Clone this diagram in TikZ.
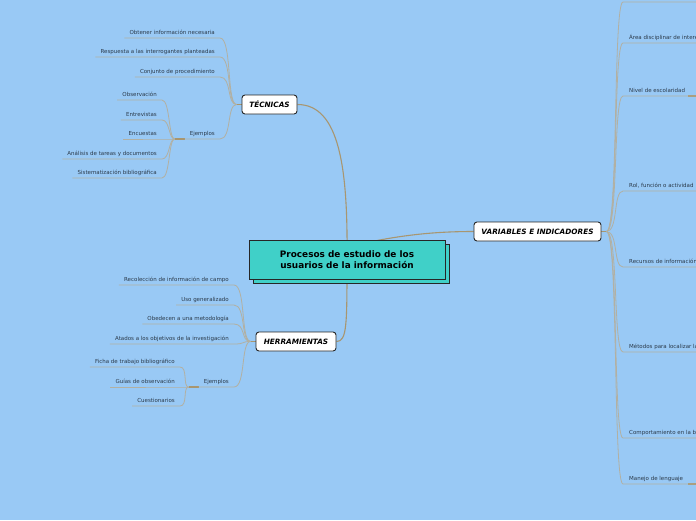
\documentclass[tikz,border=0pt]{standalone}
\usepackage{fontspec}
\setmainfont{DejaVu Sans}
\usetikzlibrary{shadows,backgrounds}

\definecolor{mapbg}{HTML}{99C9F5}
\definecolor{rootteal}{HTML}{40D0C8}
\definecolor{branchbrown}{HTML}{A89670}
\definecolor{twiggrey}{HTML}{B2B0A2}
\definecolor{leaftext}{HTML}{2B3A4A}

\begin{document}
\begin{tikzpicture}[x=1pt, y=-1pt,
    root/.style={rectangle, draw=black!85, line width=1pt, fill=rootteal,
                 minimum width=196pt, minimum height=39pt, align=center,
                 font=\fontsize{8.9}{11.5}\selectfont\bfseries, text=black,
                 copy shadow={shadow xshift=4pt, shadow yshift=-4pt}},
    topic/.style={rectangle, rounded corners=3pt, draw=black!85, line width=0.9pt,
                  fill=white, minimum height=19pt, inner sep=0pt,
                  font=\fontsize{7.3}{8}\selectfont\bfseries\itshape},
    leafl/.style={anchor=south east, font=\fontsize{5.5}{6}\selectfont, text=leaftext,
                  inner xsep=5pt, inner ysep=2.2pt, text height=4pt, text depth=1.2pt},
    leafr/.style={leafl, anchor=south west, inner xsep=6pt},
    branch/.style={draw=branchbrown, line width=1.1pt},
    twig/.style={draw=twiggrey, line width=0.8pt},
    stub/.style={draw=branchbrown, line width=1.2pt},
]
\useasboundingbox (0,0) rectangle (696,520);
\clip (0,0) rectangle (696,520);

% --- Central topic ---
\node[root] (root) at (347,259.5) {Procesos de estudio de los\\ usuarios de la información};

% --- Main topics ---
\node[topic, minimum width=55pt]  (tec) at (269.5,104.5) {TÉCNICAS};
\node[topic, minimum width=80pt]  (her) at (296,341.5)   {HERRAMIENTAS};
\node[topic, minimum width=127pt] (var) at (537.5,231.5) {VARIABLES E INDICADORES};

% --- TÉCNICAS leaves ---
\node[leafl] (t1) at (220,38)  {Obtener información necesaria};
\node[leafl] (t2) at (220,57)  {Respuesta a las interrogantes planteadas};
\node[leafl] (t3) at (220,77)  {Conjunto de procedimiento};
\node[leafl] (te) at (220,139) {Ejemplos};
\node[leafl] (te1) at (162,100) {Observación};
\node[leafl] (te2) at (162,120) {Entrevistas};
\node[leafl] (te3) at (162,139) {Encuestas};
\node[leafl] (te4) at (162,159) {Análisis de tareas y documentos};
\node[leafl] (te5) at (162,178) {Sistematización bibliográfica};

% --- HERRAMIENTAS leaves ---
\node[leafl] (h1) at (234,285) {Recolección de información de campo};
\node[leafl] (h2) at (234,305) {Uso generalizado};
\node[leafl] (h3) at (234,324) {Obedecen a una metodología};
\node[leafl] (h4) at (234,344) {Atados a los objetivos de la investigación};
\node[leafl] (he) at (234,387) {Ejemplos};
\node[leafl] (he1) at (180,367) {Ficha de trabajo bibliográfico};
\node[leafl] (he2) at (180,387) {Guías de observación};
\node[leafl] (he3) at (180,406) {Cuestionarios};

% --- VARIABLES E INDICADORES leaves ---
\node[leafr] (v0) at (623,2)   {};
\node[leafr] (v1) at (623,43)  {Área disciplinar de interés};
\node[leafr] (v2) at (623,96)  {Nivel de escolaridad};
\node[leafr] (v3) at (623,191) {Rol, función o actividad};
\node[leafr] (v4) at (623,267) {Recursos de información};
\node[leafr] (v5) at (623,352) {Métodos para localizar la información};
\node[leafr] (v6) at (623,438) {Comportamiento en la búsqueda};
\node[leafr] (v7) at (623,484) {Manejo de lenguaje};

% --- Junction points ---
\coordinate (tecj) at ([xshift=-5pt]tec.west);
\coordinate (herj) at ([xshift=-5pt]her.west);
\coordinate (varj) at ([xshift=5pt]var.east);
\coordinate (tej) at ([xshift=-10pt]te.south west);
\coordinate (hej) at ([xshift=-10pt]he.south west);
\coordinate (edgeR) at (700,0);

\begin{pgfonlayer}{background}
\fill[mapbg] (0,0) rectangle (696,520);

% --- Main branches ---
\draw[branch] (tec.east) .. controls (340,104.5) and (348,170) .. (root.center);
\draw[branch] (root.center) .. controls (347,325) and (347,341.5) .. (her.east);
\draw[branch] ([xshift=25pt,yshift=-2pt]root.north) .. controls +(40,-8) and +(-30,0) .. (var.west);

% --- Stubs ---
\draw[stub] (tec.west) -- (tecj);
\draw[stub] (her.west) -- (herj);
\draw[stub] (var.east) -- (varj);
\draw[stub] (te.south west) -- (tej);
\draw[stub] (he.south west) -- (hej);
\draw[stub] ([xshift=65pt]v2.south west) -- ++(10,0);
\draw[stub] ([xshift=65pt]v7.south west) -- ++(10,0);

% --- TÉCNICAS twigs ---
\foreach \n in {t1,t2,t3,te}
  \draw[twig] (\n.south west) -- (\n.south east) .. controls +(12,0) and +(-10,0) .. (tecj);
\foreach \n in {te1,te2,te3,te4,te5}
  \draw[twig] (\n.south west) -- (\n.south east) .. controls +(8,0) and +(-6,0) .. (tej);

% --- HERRAMIENTAS twigs ---
\foreach \n in {h1,h2,h3,h4,he}
  \draw[twig] (\n.south west) -- (\n.south east) .. controls +(12,0) and +(-10,0) .. (herj);
\foreach \n in {he1,he2,he3}
  \draw[twig] (\n.south west) -- (\n.south east) .. controls +(8,0) and +(-6,0) .. (hej);

% --- VARIABLES E INDICADORES twigs ---
\foreach \n in {v0,v1,v2,v3,v4,v5,v6,v7}
  \draw[twig] (varj) .. controls +(12,0) and +(-10,0) .. (\n.south west) -- (\n.south west -| edgeR);
\end{pgfonlayer}

\end{tikzpicture}
\end{document}
